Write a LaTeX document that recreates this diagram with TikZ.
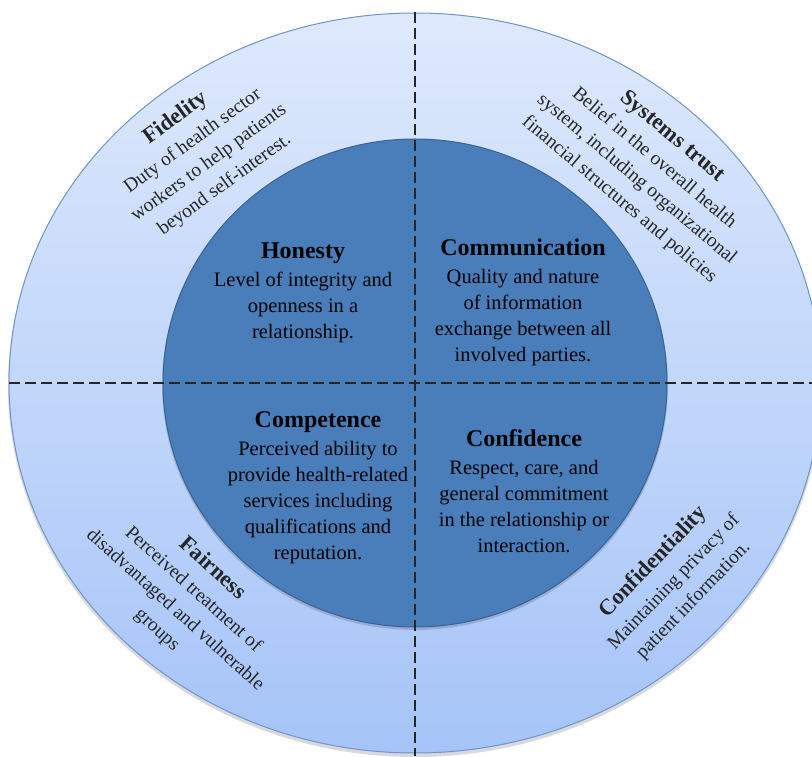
\documentclass[tikz,border=0pt]{standalone}
\usepackage{fontspec}
\setmainfont{Liberation Serif}
\usetikzlibrary{positioning}
\definecolor{ringtop}{HTML}{DEE9FC}
\definecolor{ringbottom}{HTML}{A6C4F8}
\definecolor{ringedge}{HTML}{6D95C9}
\definecolor{corefill}{HTML}{4A7EBB}
\definecolor{coreedge}{HTML}{3A6292}
\tikzstyle{ring} = [draw=ringedge, line width=1pt, top color=ringtop, bottom color=ringbottom]
\tikzstyle{core} = [draw=coreedge, line width=1pt, fill=corefill]
\tikzstyle{divider} = [dash pattern=on 11pt off 5pt, line width=1.3pt, black!85]
\tikzstyle{inner} = [align=center, font=\fontsize{20.5}{26}\selectfont, text=black, inner sep=0pt]
\tikzstyle{outer} = [inner, font=\fontsize{19.5}{27}\selectfont, text=black!85]
\newcommand{\head}[1]{{\fontsize{24}{26}\selectfont\bfseries #1}\\[2pt]}
\newcommand{\ringhead}[1]{{\fontsize{22.5}{27}\selectfont\bfseries #1}\\[1pt]}

\begin{document}
\begin{tikzpicture}[x=1pt, y=1pt]
\useasboundingbox (0,0) rectangle (812,756);
\clip (0,0) rectangle (812,756);

% rings
\fill[black, opacity=0.15] (415,370) ellipse [x radius=407pt, y radius=371pt];
\path[ring] (415,373) ellipse [x radius=406pt, y radius=370pt];
\fill[black, opacity=0.15] (415,371) ellipse [x radius=253pt, y radius=245pt];
\path[core] (415,373) ellipse [x radius=252pt, y radius=244pt];

% quadrant dividers
\coordinate (top) at (415,744);
\coordinate (bottom) at (415,0);
\coordinate (left) at (9,373);
\coordinate (right) at (812,373);
\draw[divider] (top) -- (bottom);
\draw[divider] (left) -- (right);

% inner circle
\node[inner] (honesty) at (303,463) {\head{Honesty}Level of integrity and\\openness in a\\relationship.};
\node[inner] (communication) at (523,454) {\head{Communication}Quality and nature\\of information\\exchange between all\\involved parties.};
\node[inner] (competence) at (318,268) {\head{Competence}Perceived ability to\\provide health-related\\services including\\qualifications and\\reputation.};
\node[inner] (confidence) at (524,265) {\head{Confidence}Respect, care, and\\general commitment\\in the relationship or\\interaction.};

% outer ring
\node[outer, rotate=36] (fidelity) at (200,605) {\ringhead{Fidelity}Duty of health sector\\workers to help patients\\beyond self-interest.};
\node[outer, rotate=-40] (systems) at (646,588) {\ringhead{Systems trust}Belief in the overall health\\system, including organizational\\financial structures and policies};
\node[outer, rotate=-42] (fairness) at (185,157) {\ringhead{Fairness}Perceived treatment of\\disadvantaged and vulnerable\\groups};
\node[outer, rotate=46] (confidentiality) at (673,175) {\ringhead{Confidentiality}Maintaining privacy of\\patient information.};
\end{tikzpicture}
\end{document}
